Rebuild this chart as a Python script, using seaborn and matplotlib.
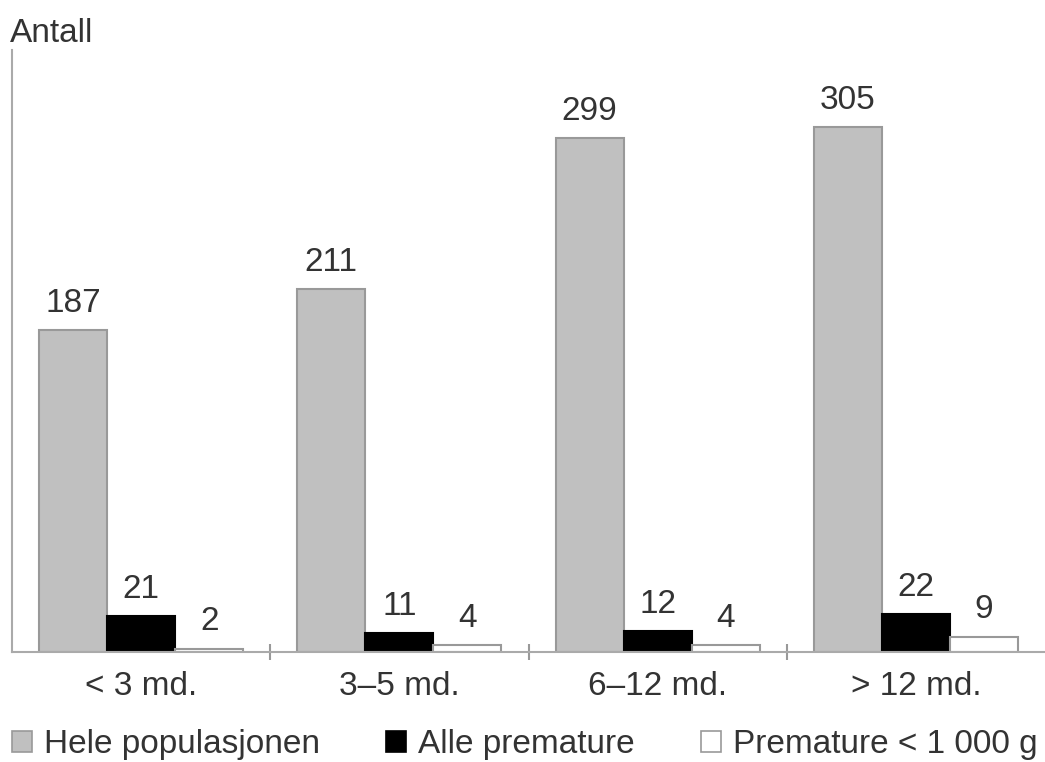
import pandas as pd
import matplotlib.pyplot as plt
import seaborn as sns
from matplotlib.ticker import FixedLocator

# Values
perioder = ['< 3 md.', '3–5 md.', '6–12 md.', '> 12 md.']
grupper = ['Hele populasjonen', 'Alle premature', 'Premature < 1 000 g']
hele = [187, 211, 299, 305]
alle_premature = [21, 11, 12, 22]
premature_1000 = [2, 4, 4, 9]

df = pd.DataFrame({
    'periode': perioder * 3,
    'gruppe': [grupper[0]] * 4 + [grupper[1]] * 4 + [grupper[2]] * 4,
    'antall': hele + alle_premature + premature_1000,
})

sns.set_style('white')
plt.rcParams['font.family'] = ['Liberation Sans', 'DejaVu Sans']
txt = '#333333'
edge_grey = '#999999'
fs = 24

fig = plt.figure(figsize=(10.45, 7.62), dpi=100)
ax = fig.add_axes([12 / 1045, 1 - 652 / 762, 1 - 12 / 1045, (652 - 50) / 762])

colors = ['#c0c0c0', '#000000', '#ffffff']
sns.barplot(data=df, x='periode', y='antall', hue='gruppe', order=perioder,
            hue_order=grupper, palette=colors, width=0.79, saturation=1,
            ax=ax, legend=True)

edges = [edge_grey, '#000000', edge_grey]
for cont, ec in zip(ax.containers, edges):
    for bar in cont:
        bar.set_edgecolor(ec)
        bar.set_linewidth(1.5)
    ax.bar_label(cont, padding=8, fontsize=fs, color=txt)

ax.set_xlim(-0.5, 3.5)
ax.set_ylim(0, 350)
ax.set_xlabel('')
ax.set_ylabel('')
ax.set_yticks([])

ax.tick_params(axis='x', which='major', bottom=False, length=0, pad=14,
               labelsize=fs, labelcolor=txt)
ax.xaxis.set_minor_locator(FixedLocator([0.5, 1.5, 2.5]))
ax.tick_params(axis='x', which='minor', bottom=True, length=12, direction='inout',
               color=edge_grey, width=1.5)

for side in ['top', 'right']:
    ax.spines[side].set_visible(False)
for side in ['left', 'bottom']:
    ax.spines[side].set_color('#aaaaaa')
    ax.spines[side].set_linewidth(1.5)

fig.text(10 / 1045, 1 - 33 / 762, 'Antall', fontsize=fs, color=txt, va='center', ha='left')

handles, labels = ax.get_legend_handles_labels()
ax.get_legend().remove()
leg = fig.legend(handles, labels, loc='center left', bbox_to_anchor=(12 / 1045, 1 - 745 / 762),
                 ncol=3, frameon=False, fontsize=fs, handlelength=0.6, handleheight=0.6,
                 handletextpad=0.35, columnspacing=2.0, borderaxespad=0, borderpad=0)
for h, ec in zip(leg.legend_handles, edges):
    h.set_edgecolor(ec)
    h.set_linewidth(1.2)
for t in leg.get_texts():
    t.set_color(txt)

fig.savefig('out.png', dpi=100)
